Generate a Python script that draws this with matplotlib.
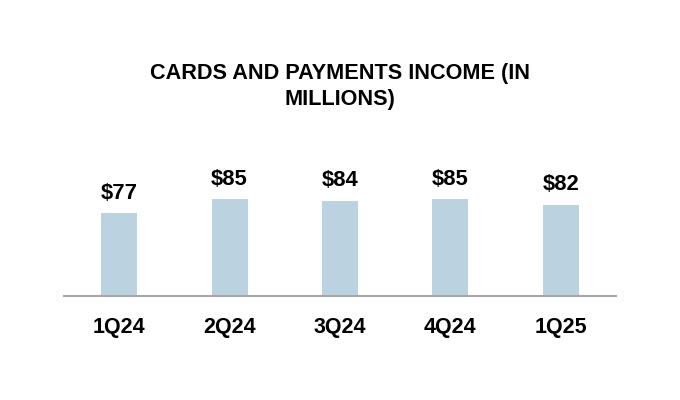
import matplotlib
matplotlib.use("Agg")
import matplotlib.pyplot as plt

quarters = ["1Q24", "2Q24", "3Q24", "4Q24", "1Q25"]
income = [77, 85, 84, 85, 82]
title = "CARDS AND PAYMENTS INCOME (IN\nMILLIONS)"

plt.rcParams["font.family"] = ["Liberation Sans", "DejaVu Sans"]

fig = plt.figure(figsize=(6.8, 4.0), dpi=100)
ax = fig.add_axes([0.0941, 0.26, 0.8118, 0.365])

x = range(len(quarters))
bars = ax.bar(x, income, width=0.325, color="#BBD3E0", bottom=0)
ax.set_xlim(-0.5, len(quarters) - 0.5)
ax.set_ylim(30, 113)

for xi, v in zip(x, income):
    ax.annotate(f"${v}", (xi, v), xytext=(0, 7), textcoords="offset points",
                ha="center", va="bottom", fontsize=15.8, fontweight="bold")

for s in ["top", "right", "left"]:
    ax.spines[s].set_visible(False)
ax.spines["bottom"].set_color("#A6A6A6")
ax.spines["bottom"].set_linewidth(1.5)
ax.set_yticks([])
ax.set_xticks(list(x))
ax.set_xticklabels(quarters, fontsize=15.5, fontweight="bold")
ax.tick_params(axis="x", length=0, pad=15)

fig.text(0.5, 0.784, title, ha="center", va="center", fontsize=15.6,
         fontweight="bold", linespacing=1.3)

fig.savefig("out.png", dpi=100)
